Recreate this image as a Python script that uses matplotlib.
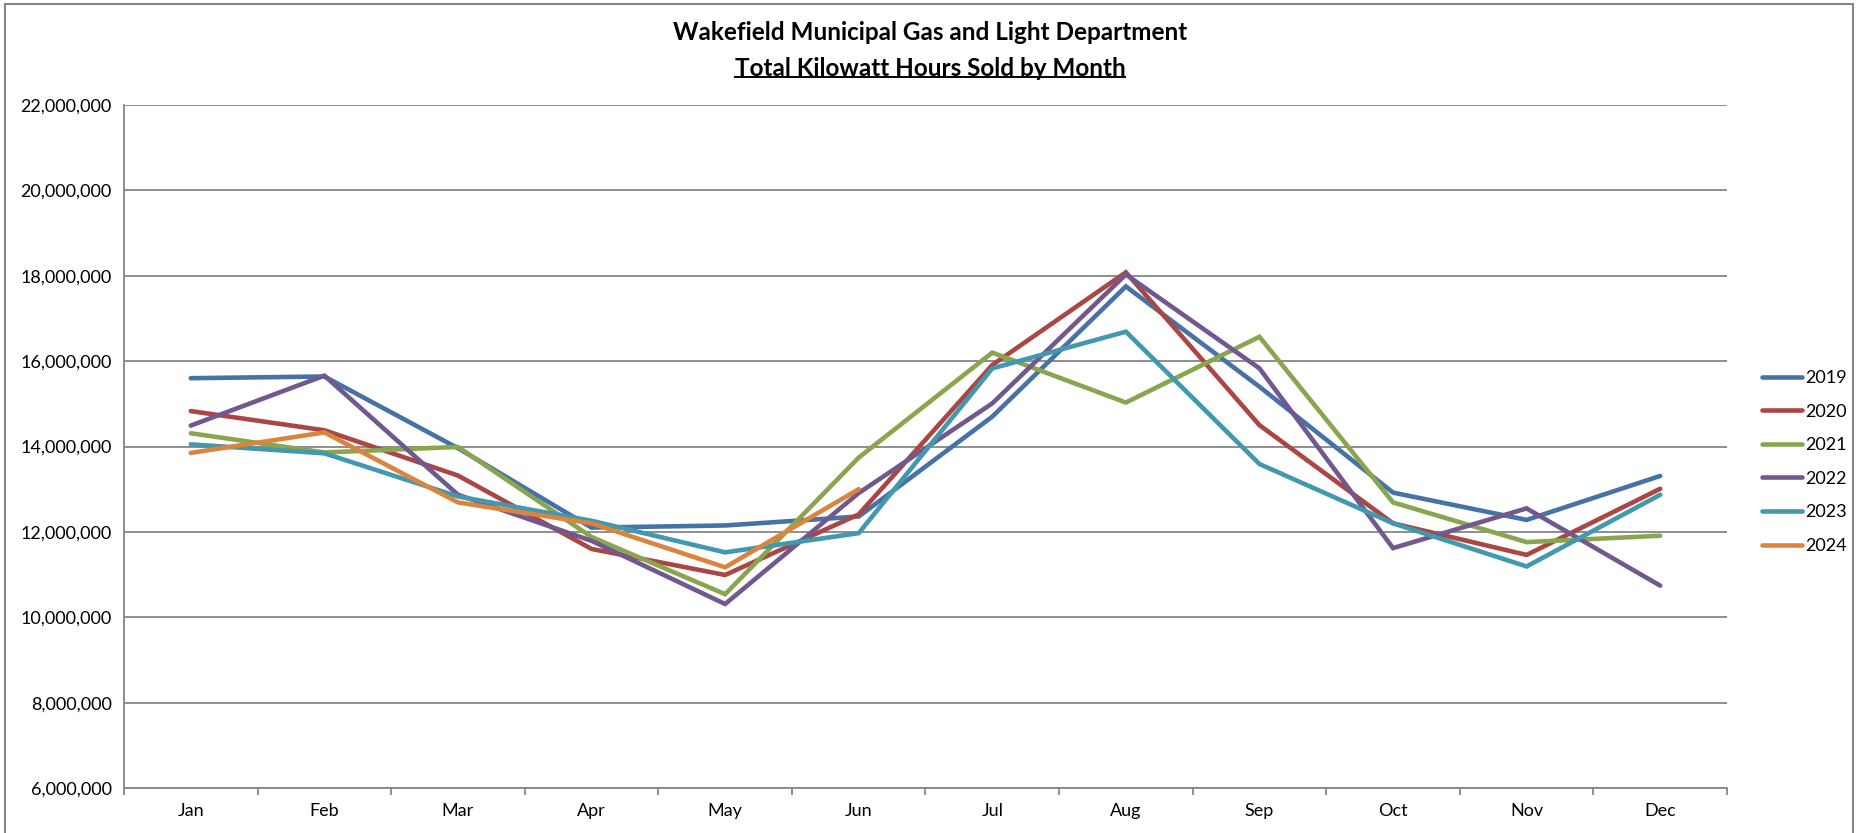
import matplotlib.pyplot as plt
from matplotlib.lines import Line2D
from matplotlib.patches import Rectangle
from matplotlib.ticker import FuncFormatter, MultipleLocator

plt.rcParams['font.family'] = ['Lato', 'DejaVu Sans']

months = ['Jan', 'Feb', 'Mar', 'Apr', 'May', 'Jun',
          'Jul', 'Aug', 'Sep', 'Oct', 'Nov', 'Dec']

# kWh sold per month
kwh_2019 = [15600000, 15640000, 13960000, 12100000, 12150000, 12360000,
            14700000, 17750000, 15400000, 12920000, 12280000, 13310000]
kwh_2020 = [14830000, 14380000, 13320000, 11600000, 10990000, 12410000,
            15910000, 18080000, 14500000, 12200000, 11460000, 13010000]
kwh_2021 = [14310000, 13860000, 13990000, 11880000, 10540000, 13740000,
            16200000, 15030000, 16570000, 12690000, 11760000, 11910000]
kwh_2022 = [14490000, 15660000, 12870000, 11790000, 10310000, 12910000,
            15010000, 18030000, 15830000, 11620000, 12550000, 10740000]
kwh_2023 = [14050000, 13840000, 12830000, 12260000, 11520000, 11970000,
            15830000, 16690000, 13590000, 12200000, 11190000, 12870000]
kwh_2024 = [13850000, 14330000, 12690000, 12200000, 11170000, 13000000]

years = ['2019', '2020', '2021', '2022', '2023', '2024']
series = [kwh_2019, kwh_2020, kwh_2021, kwh_2022, kwh_2023, kwh_2024]
colors = ['#4572A7', '#AA4643', '#89A54E', '#71588F', '#4198AF', '#DB843D']

W, H = 1866, 833
fig = plt.figure(figsize=(W / 100, H / 100), dpi=100)
ax = fig.add_axes([124 / W, 1 - 788 / H, (1727 - 124) / W, (788 - 105) / H])

for yr, vals, c in zip(years, series, colors):
    ax.plot(range(len(vals)), vals, color=c, lw=3.3, label=yr,
            solid_capstyle='round', solid_joinstyle='miter')

grey = '#868686'
ax.set_xlim(-0.5, 11.5)
ax.set_ylim(6000000, 22000000)
ax.yaxis.set_major_locator(MultipleLocator(2000000))
ax.yaxis.set_major_formatter(FuncFormatter(lambda v, p: f'{int(v):,}'))
ax.grid(axis='y', color=grey, lw=1.3)
ax.set_axisbelow(True)

ax.set_xticks(range(12))
ax.set_xticklabels(months)
ax.set_xticks([i - 0.5 for i in range(13)], minor=True)
ax.tick_params(axis='x', which='major', length=0, pad=11, labelsize=13)
ax.tick_params(axis='x', which='minor', length=5, color=grey, width=1.3)
ax.tick_params(axis='y', length=0, pad=9, labelsize=13)

for s in ['top', 'right']:
    ax.spines[s].set_visible(False)
for s in ['left', 'bottom']:
    ax.spines[s].set_color(grey)
    ax.spines[s].set_linewidth(1.3)

leg = ax.legend(loc='upper left', bbox_to_anchor=(1746 / W, 1 - 354 / H),
                bbox_transform=fig.transFigure, frameon=False, fontsize=13,
                handlelength=2.2, handletextpad=0.2, labelspacing=0.97)

# title
fig.text(930 / W, 1 - 33 / H, 'Wakefield Municipal Gas and Light Department',
         ha='center', va='center', fontsize=17.5, fontweight='bold')
t2 = fig.text(930 / W, 1 - 68 / H, 'Total Kilowatt Hours Sold by Month',
              ha='center', va='center', fontsize=17.5, fontweight='bold')
fig.canvas.draw()
bb = t2.get_window_extent().transformed(fig.transFigure.inverted())
uy = bb.y0 + (bb.y1 - bb.y0) * 0.12
fig.add_artist(Line2D([bb.x0, bb.x1], [uy, uy], color='black', lw=1.4,
                      transform=fig.transFigure))

# outer chart border
fig.add_artist(Rectangle((5 / W, -0.02), (1853 - 5) / W, 1 - 4 / H + 0.02,
                         fill=False, edgecolor=grey, lw=1.5,
                         transform=fig.transFigure))

fig.savefig('out.png', dpi=100)
